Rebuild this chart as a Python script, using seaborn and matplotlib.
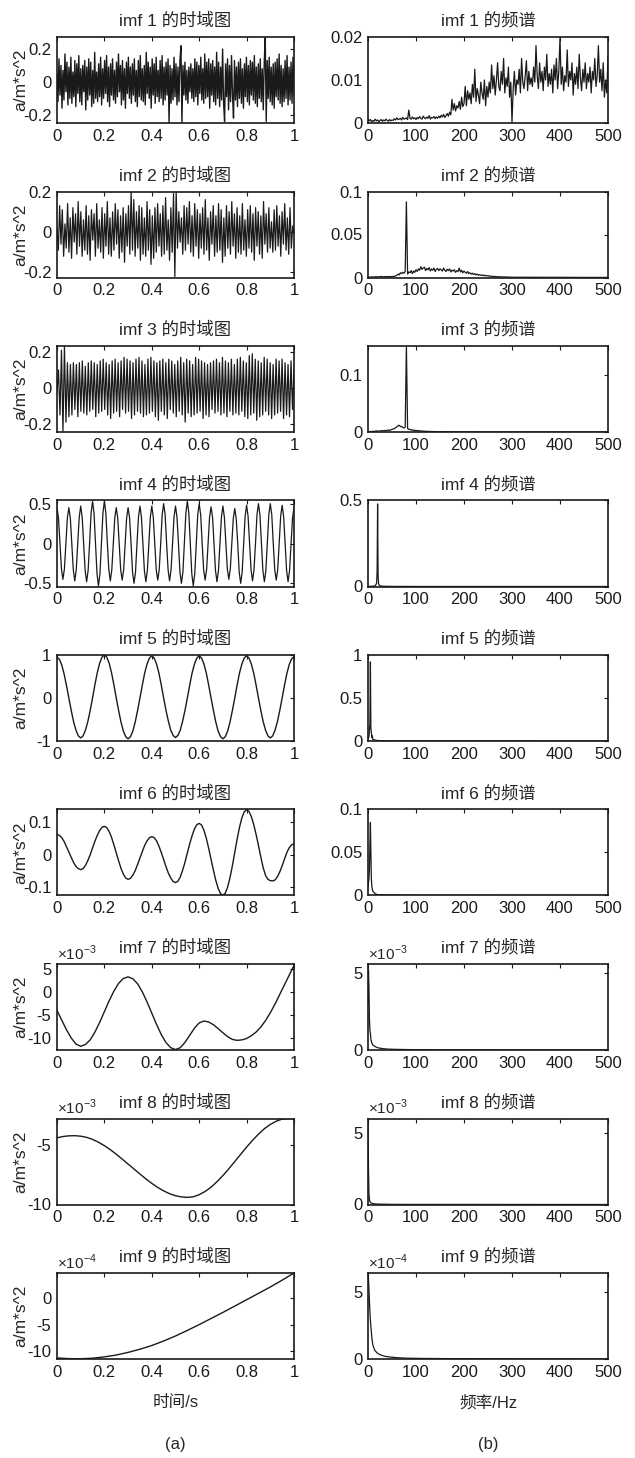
import numpy as np
import pandas as pd
import seaborn as sns
import matplotlib.pyplot as plt
from matplotlib.ticker import FuncFormatter

# ---------------- time domain ----------------
# imf1 .. imf3 in units of 0.01
imf1_t = [5, -12, 14, -8, 10, -16, 7, -11, 17, -6, 12, -14, 9, -10, 15, -13, 6, -9, 13, -15,
          11, -7, 16, -12, 8, -14, 10, -6, 13, -17, 9, -11, 14, -8, 12, -15, 7, -13, 18, -10,
          6, -12, 11, -9, 15, -14, 8, -10, 13, -7, 16, -12, 9, -15, 11, -8, 14, -11, 7, -13,
          12, -9, 17, -6, 10, -14, 13, -11, 8, -16, 12, -7, 15, -10, 9, -13, 11, -8, 14, -12,
          7, -15, 13, -9, 16, -11, 8, -12, 10, -14, 18, -7, 12, -10, 9, -16, 14, -8, 11, -13,
          15, -9, 7, -12, 13, -10, 16, -14, 9, -11, 12, -8, 14, -25, 10, -13, 8, -11, 15, -9,
          11, -14, 9, -12, 13, 22, -25, 10, -8, 12, -11, 7, -13, 9, -6, 11, -10, 8, -12, 14,
          -9, 12, -14, 10, -7, 15, -11, 8, -13, 17, -10, 12, -9, 14, -16, 11, -8, 13, -12, 9,
          -14, 18, -10, 12, -15, 9, -11, 20, -13, -24, 11, -9, 14, -17, 10, -12, 16, -8, -22, 13,
          -11, 9, -15, 12, -10, 14, -13, 8, -16, 11, -9, 15, -12, 10, -14, 13, -8, 12, -11, 16,
          -13, 9, -15, 11, -10, 14, -12, 8, -17, 12, 27, -24, 13, -10, 15, -12, 9, -14, 11, -16,
          12, -9, 14, -11, 17, -13, 10, -15, 8, -12, 13, -10, 16, -14, 9, -11, 12, -13, 15, -8]

imf2_t = [2, -9, 13, -6, 11, -12, 4, -8, 14, -10, 7, -13, 12, -5, 9, -11, 15, -7, 10, -12,
          6, -9, 13, -11, 8, -14, 11, -4, 9, -12, 14, -8, 6, -10, 12, -13, 9, -7, 15, -11,
          7, -12, 10, -9, 14, -6, 11, -13, 8, -10, 12, -15, 9, -7, 13, -11, 20, -9, 16, -12,
          10, -8, 13, -14, 12, -11, 7, -12, 15, -9, 11, -16, 8, -13, 12, -10, 14, -7, 9, -12,
          13, -11, 17, -9, 6, -14, 12, -10, 19, -22, 20, -8, 10, -5, 7, -11, 13, -9, 12, -6,
          15, -10, 8, -12, 14, -7, 11, -13, 9, -8, 12, -11, 16, -9, 7, -14, 10, -6, 13, -12,
          8, -10, 14, -9, 11, -15, 7, -12, 13, -8, 10, -11, 15, -7, 9, -13, 12, -10, 8, -11,
          14, -9, 6, -12, 11, -8, 13, -10, 9, -14, 12, -7, 10, -11, 8, -13, 15, -6, 9, -10,
          12, -8, 5, -10, 11, -9, 13, -7, 8, -12, 10, -6, 14, -9, 7, -11, 12, -8, 3, -1]

imf3_t = [-3, 10, -15, 21, -24, 23, -19, 14, -16, 13, -15, 14, -12, 13, -16, 14, -13, 15, -14, 12,
          -15, 14, -13, 15, -12, 14, -16, 13, -14, 15, -13, 16, -12, 14, -15, 13, -17, 15, -14, 16,
          -13, 14, -16, 15, -12, 17, -14, 16, -13, 15, -17, 14, -15, 16, -13, 17, -14, 15, -16, 13,
          -15, 16, -14, 17, -13, 15, -16, 14, -18, 15, -13, 16, -15, 14, -17, 16, -12, 15, -14, 13,
          -16, 15, -13, 17, -15, 14, -19, 16, -14, 15, -16, 13, -15, 17, -14, 16, -13, 15, -17, 14,
          -15, 13, -16, 14, -12, 15, -14, 16, -13, 14, -15, 17, -14, 15, -16, 14, -13, 16, -15, 13,
          -14, 16, -15, 17, -13, 15, -16, 14, -17, 18, -15, 19, -14, 16, -18, 15, -16, 14, -15, 17,
          -13, 16, -15, 14, -17, 13, -15, 16, -14, 15, -13, 16, -17, 14, -15, 13, -16, 15, -12, 10]

# imf4 in units of 0.01
imf4_t = [45, 32, 0, -32, -45, -32, 0, 32, 45, 32, 0, -33, -47, -33, 0, 33,
          47, 33, 0, -34, -48, -34, 0, 38, 53, 38, 0, -38, -53, -38, 0, 38,
          53, 38, 0, -33, -47, -33, 0, 32, 45, 32, 0, -33, -46, -33, 0, 32,
          45, 32, 0, -36, -50, -36, 0, 33, 47, 33, 0, -34, -48, -34, 0, 33,
          47, 33, 0, -33, -46, -33, 0, 36, 50, 36, 0, -33, -47, -33, 0, 33,
          47, 33, 0, -36, -50, -36, 0, 38, 53, 38, 0, -38, -53, -38, 0, 36,
          50, 36, 0, -33, -46, -33, 0, 33, 46, 33, 0, -34, -48, -34, 0, 33,
          47, 33, 0, -32, -45, -32, 0, 31, 44, 31, 0, -36, -50, -36, 0, 34,
          48, 34, 0, -33, -47, -33, 0, 36, 50, 36, 0, -34, -48, -34, 0, 36,
          50, 36, 0, -33, -46, -33, 0, 34, 48, 34, 0, -34, -48, -34, 0, 32, 45]

imf5_t = [.95, .90, .77, .56, .29, 0, -.29, -.55, -.75, -.88, -.93, -.88, -.75, -.55, -.29, 0, .31, .59, .81, .95,
          1.0, .95, .81, .59, .31, 0, -.29, -.56, -.77, -.90, -.95, -.90, -.77, -.56, -.29, 0, .30, .58, .79, .93,
          .98, .93, .79, .58, .30, 0, -.29, -.54, -.75, -.87, -.92, -.87, -.75, -.54, -.29, 0, .30, .58, .79, .93,
          .98, .93, .79, .58, .30, 0, -.29, -.56, -.77, -.90, -.95, -.90, -.77, -.56, -.29, 0, .30, .58, .79, .93,
          .98, .93, .79, .58, .30, 0, -.29, -.55, -.75, -.88, -.93, -.88, -.75, -.55, -.29, 0, .30, .57, .78, .91,
          .96]

imf6_t = [.063, .060, .053, .041, .025, .0085, -.008, -.024, -.036, -.043, -.046,
          -.043, -.033, -.018, .000, .021, .042, .060, .075, .085, .088,
          .084, .072, .054, .031, .006, -.019, -.042, -.060, -.072, -.076,
          -.073, -.063, -.049, -.030, -.010, .010, .029, .043, .053, .056,
          .053, .043, .027, .007, -.015, -.037, -.057, -.072, -.083, -.086,
          -.082, -.069, -.048, -.023, .006, .034, .059, .080, .093, .097,
          .092, .076, .051, .020, -.014, -.048, -.079, -.104, -.120, -.125,
          -.119, -.100, -.071, -.034, .007, .048, .085, .114, .133, .139,
          .134, .118, .094, .063, .029, -.007, -.040, -.064, -.076, -.080, -.081,
          -.078, -.068, -.053, -.034, -.013, .007, .022, .031, .034]

# imf7, imf8 in units of 1e-3, imf9 in units of 1e-4
imf7_t = [-4.1, -6.2, -8.3, -10.1, -11.4, -11.9,
          -11.5, -10.5, -8.8, -6.7, -4.35, -2.0, .1, 1.8, 2.85, 3.2,
          2.8, 1.7, -.05, -2.25, -4.7, -7.15, -9.35, -11.1, -12.2, -12.6,
          -12.2, -11.05, -9.5, -7.95, -6.8, -6.4,
          -6.6, -7.2, -8.05, -8.95, -9.8, -10.4, -10.6,
          -10.5, -10.2, -9.6, -8.8, -7.7, -6.3, -4.6, -2.7, -.6, 1.5, 3.6, 5.7]

imf8_t = [-4.38, -4.27, -4.21, -4.2,
          -4.24, -4.34, -4.51, -4.75, -5.04, -5.38, -5.76, -6.17, -6.59, -7.01,
          -7.43, -7.84, -8.22, -8.56, -8.85, -9.09, -9.26, -9.36, -9.4,
          -9.35, -9.17, -8.90, -8.54, -8.08, -7.56, -6.99, -6.38, -5.77, -5.16,
          -4.59, -4.07, -3.61, -3.25, -2.98, -2.80, -2.75, -2.75]

imf9_t = [-11.25, -11.38, -11.4, -11.3, -11.05, -10.7, -10.2, -9.6, -8.9, -8.05, -7.1,
          -6.05, -4.95, -3.8, -2.65, -1.45, -.25, .95, 2.15, 3.45, 4.8]

# ---------------- spectra ----------------
# imf1 spectrum, 0..500 Hz, units 1e-4
spec1 = [10, 5, 8, 3, 6, 4, 9, 5, 7, 3, 6, 8, 4, 7, 5, 9, 6, 4, 8, 5, 7,
         6, 10, 7, 12, 8, 9, 11, 7, 13, 9, 10, 12, 8, 30, 11, 9, 14, 10, 12, 8,
         13, 10, 15, 11, 9, 16, 12, 10, 14, 11, 17, 9, 13, 12, 15, 10, 14, 11, 16, 12,
         18, 14, 20, 13, 17, 22, 16, 25, 19, 55, 30, 45, 28, 40, 35, 50, 32, 60, 38, 45,
         85, 40, 75, 55, 70, 45, 90, 60, 125, 50, 80, 65, 45, 95, 70, 55, 100, 40, 85, 60,
         95, 70, 135, 80, 110, 65, 100, 140, 85, 75, 120, 90, 150, 70, 105, 85, 130, 60, 95, 2,
         80, 120, 65, 100, 90, 125, 70, 150, 95, 80, 110, 145, 75, 120, 90, 105, 85, 130, 95, 180,
         110, 80, 140, 95, 120, 75, 130, 100, 160, 85, 115, 90, 125, 70, 135, 100, 150, 80, 120, 198,
         90, 130, 75, 110, 95, 170, 85, 120, 100, 140, 65, 115, 90, 130, 80, 160, 105, 75, 125, 95,
         140, 80, 115, 95, 130, 70, 120, 100, 150, 85, 110, 180, 95, 125, 75, 140, 60, 100, 70, 155]

# imf2 spectrum, 0..300 Hz every 2.5 Hz, then a sparse tail; units 1e-4
spec2 = [3, 5, 4, 8, 6, 5, 9, 7, 6, 10, 8, 12, 9, 7, 11, 10, 8, 13, 9, 11, 10,
         14, 12, 18, 25, 40, 30, 55, 45, 60, 50, 70, 880, 40, 65, 55, 80, 45, 75, 60, 90,
         70, 100, 85, 125, 95, 110, 120, 80, 105, 90, 115, 75, 100, 85, 110, 70, 95, 105, 80, 100,
         90, 75, 110, 85, 70, 95, 80, 100, 65, 85, 75, 90, 60, 80, 70, 110, 65, 85, 55, 75,
         60, 50, 70, 45, 55, 40, 50, 35, 45, 30, 40, 25, 35, 28, 22, 30, 20, 25, 18, 22,
         15, 18, 12, 14, 10, 12, 8, 10, 7, 9, 6, 8, 5, 7, 5, 6, 4, 5, 4, 3]
spec2_tail_f = [325, 350, 375, 400, 425, 450, 475, 500]
spec2_tail = [3, 2, 2, 2, 1, 1, 1, 1]

# imf3 spectrum, 0..200 Hz every 2.5 Hz, then tail; units 1e-4
spec3 = [5, 8, 6, 10, 12, 9, 15, 20, 14, 18, 16, 22, 25, 20, 28, 24, 30, 35, 28, 40, 45,
         55, 60, 75, 90, 110, 120, 95, 100, 80, 70, 85, 1520, 60, 50, 40, 45, 30, 35, 25, 28,
         22, 25, 18, 20, 15, 17, 12, 14, 10, 12, 9, 10, 8, 9, 7, 8, 6, 7, 5, 6,
         5, 5, 4, 5, 4, 4, 3, 4, 3, 3, 3, 3, 2, 3, 2, 2, 2, 2, 2, 2]
spec3_tail_f = [225, 250, 275, 300, 325, 350, 375, 400, 425, 450, 475, 500]
spec3_tail = [2, 1, 1, 1, 1, 1, 1, 1, 1, 1, 1, 1]

spec4_f = [0, 5, 10, 14, 16, 18, 19, 20, 21, 22, 24, 26, 30, 40, 60, 100, 200, 300, 400, 500]
spec4 = [.0005, .001, .002, .004, .008, .02, .09, .48, .07, .015, .006, .003, .002, .001,
         .0005, .0003, .0002, .0001, .0001, .0001]

spec5_f = [0, 2, 4, 5, 6, 8, 9, 10, 15, 20, 50, 100, 500]
spec5 = [.02, .05, .2, .92, .15, .04, .06, .02, .01, .005, .002, .001, .0005]

spec6_f = [0, 2, 3, 4, 5, 6, 7, 8, 10, 15, 20, 50, 100, 500]
spec6 = [.01, .02, .03, .06, .085, .05, .02, .01, .005, .002, .001, .0005, .0002, .0001]

# units 1e-3
spec7_f = [0, 1, 2, 3, 4, 5, 6, 8, 10, 15, 20, 30, 40, 60, 100, 200, 300, 500]
spec7 = [3.0, 5.2, 4.0, 2.0, 1.3, 1.1, .7, .45, .33, .22, .15, .09, .06, .04, .02, .01, .005, .003]

spec8_f = [0, 1, 2, 3, 4, 6, 10, 20, 50, 100, 500]
spec8 = [6.0, 2.5, .8, .35, .2, .12, .06, .03, .01, .005, .002]

# units 1e-4
spec9_f = [0, 1, 2, 3, 4, 5, 6, 8, 10, 14, 19, 25, 35, 45, 60, 80, 120, 200, 300, 500]
spec9 = [6.4, 6.0, 5.2, 4.3, 3.5, 2.9, 2.4, 1.6, 1.05, .65, .45, .32, .2, .15, .1, .06, .04, .02, .01, .005]

# ---------------- assemble ----------------
time_rows = [
    (np.array(imf1_t) * 1e-2, 1.0), (np.array(imf2_t) * 1e-2, .9), (np.array(imf3_t) * 1e-2, .9),
    (np.array(imf4_t) * 1e-2, .9), (np.array(imf5_t), 1.0), (np.array(imf6_t), 1.0),
    (np.array(imf7_t) * 1e-3, 1.0), (np.array(imf8_t) * 1e-3, 1.0), (np.array(imf9_t) * 1e-4, 1.0),
]
spec_rows = [
    (np.linspace(0, 500, len(spec1)), np.array(spec1) * 1e-4),
    (np.concatenate([np.linspace(0, 300, len(spec2)), spec2_tail_f]),
     np.concatenate([spec2, spec2_tail]) * 1e-4),
    (np.concatenate([np.linspace(0, 200, len(spec3)), spec3_tail_f]),
     np.concatenate([spec3, spec3_tail]) * 1e-4),
    (np.array(spec4_f), np.array(spec4)),
    (np.array(spec5_f), np.array(spec5)),
    (np.array(spec6_f), np.array(spec6)),
    (np.array(spec7_f), np.array(spec7) * 1e-3),
    (np.array(spec8_f), np.array(spec8) * 1e-3),
    (np.array(spec9_f), np.array(spec9) * 1e-4),
]

# y-limits, ticks and exponent for each panel
time_ylim = [(-.25, .273), (-.225, .2), (-.245, .233), (-.54, .54), (-1.0, 1.0),
             (-.126, .14), (-12.7e-3, 6.0e-3), (-10e-3, -2.75e-3), (-11.45e-4, 4.8e-4)]
time_yticks = [[-.2, 0, .2], [-.2, 0, .2], [-.2, 0, .2], [-.5, 0, .5], [-1, 0, 1],
               [-.1, 0, .1], [-10e-3, -5e-3, 0, 5e-3], [-10e-3, -5e-3], [-10e-4, -5e-4, 0]]
spec_ylim = [(0, .02), (0, .1), (0, .152), (0, .5), (0, 1.0), (0, .1),
             (0, 5.6e-3), (0, 6.0e-3), (0, 6.4e-4)]
spec_yticks = [[0, .01, .02], [0, .05, .1], [0, .1], [0, .5], [0, .5, 1], [0, .05, .1],
               [0, 5e-3], [0, 5e-3], [0, 5e-4]]
exps = [0, 0, 0, 0, 0, 0, -3, -3, -4]

sns.set_theme(style="white")
plt.rcParams['font.family'] = ['Liberation Sans', 'Noto Sans CJK SC']
plt.rcParams['axes.unicode_minus'] = False
plt.rcParams['mathtext.fontset'] = 'custom'
plt.rcParams['mathtext.rm'] = 'Liberation Sans'

FS = 12
fig = plt.figure(figsize=(6.35, 14.58), dpi=100)
W, H = 635, 1458


def style(ax, xlim, xticks, ylim, yticks, e):
    ax.set_xlim(*xlim)
    ax.set_ylim(*ylim)
    ax.set_xticks(xticks)
    ax.set_yticks(yticks)
    sc = 10.0 ** e
    ax.xaxis.set_major_formatter(FuncFormatter(lambda v, p: '%g' % round(v, 6)))
    ax.yaxis.set_major_formatter(FuncFormatter(lambda v, p: '%g' % round(v / sc, 6)))
    if e != 0:
        ax.text(0.0, 1.015, r'$\times10^{%d}$' % e, transform=ax.transAxes,
                ha='left', va='bottom', fontsize=FS - 1)
    ax.tick_params(direction='in', length=3, width=0.8, top=True, right=True,
                   labelsize=FS, pad=4, colors='k')
    for s in ax.spines.values():
        s.set_color('k')
        s.set_linewidth(1.2)
    ax.set_xlabel('')
    ax.set_ylabel('')


for i in range(9):
    top = 37 + i * 154.5
    bottom = 1 - (top + 86) / H

    # time domain
    ax = fig.add_axes([57 / W, bottom, 237 / W, 86 / H])
    y, lw = time_rows[i]
    df = pd.DataFrame({'t': np.linspace(0, 1, len(y)), 'v': y})
    sns.lineplot(data=df, x='t', y='v', ax=ax, color='k', linewidth=lw, estimator=None, sort=False)
    style(ax, (0, 1), [0, .2, .4, .6, .8, 1], time_ylim[i], time_yticks[i], exps[i])
    ax.set_title(f'imf {i + 1} 的时域图', fontsize=FS + 0.5, pad=8)
    ax.set_ylabel('a/m*s^2', fontsize=FS + 0.5)
    ax.yaxis.set_label_coords(-0.12, 0.5)
    if i == 8:
        ax.set_xlabel('时间/s', fontsize=FS)
        ax.xaxis.set_label_coords(0.5, -0.42)

    # spectrum
    ax = fig.add_axes([368 / W, bottom, 240 / W, 86 / H])
    f, a = spec_rows[i]
    df = pd.DataFrame({'f': f, 'a': a})
    sns.lineplot(data=df, x='f', y='a', ax=ax, color='k', linewidth=0.9, estimator=None, sort=False)
    style(ax, (0, 500), [0, 100, 200, 300, 400, 500], spec_ylim[i], spec_yticks[i], exps[i])
    ax.set_title(f'imf {i + 1} 的频谱', fontsize=FS + 0.5, pad=8)
    if i == 8:
        ax.set_xlabel('频率/Hz', fontsize=FS)
        ax.xaxis.set_label_coords(0.5, -0.42)

fig.text(175 / W, 1 - 1444 / H, '(a)', ha='center', va='center', fontsize=FS)
fig.text(488 / W, 1 - 1444 / H, '(b)', ha='center', va='center', fontsize=FS)

fig.savefig('out.png', dpi=100)
